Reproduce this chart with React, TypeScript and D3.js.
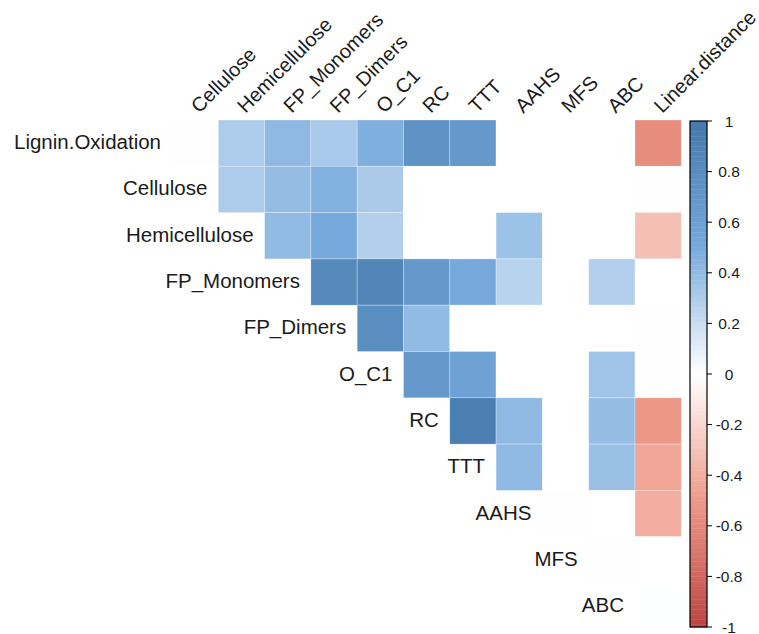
import React from "react";
import * as d3 from "d3";

const variables = [
  "Lignin.Oxidation", "Cellulose", "Hemicellulose", "FP_Monomers", "FP_Dimers",
  "O_C1", "RC", "TTT", "AAHS", "MFS", "ABC", "Linear.distance",
];
const rowLabels = variables.slice(0, 11);
const colLabels = variables.slice(1);

// upper-triangle correlations, each row lists columns to the right of the diagonal
const rowLignin = [-0.004, 0.3, 0.41, 0.32, 0.47, 0.74, 0.68, 0.0, 0.0, 0.0, -0.57];
const rowCellulose = [0.3, 0.39, 0.46, 0.31, 0.0, 0.0, 0.0, 0.0, 0.0, 0.004];
const rowHemicellulose = [0.4, 0.52, 0.28, 0.0, 0.0, 0.36, 0.0, 0.0, -0.31];
const rowFPMonomers = [0.82, 0.86, 0.68, 0.52, 0.26, 0.0, 0.28, 0.0];
const rowFPDimers = [0.78, 0.4, 0.0, 0.0, 0.0, 0.0, -0.003];
const rowOC1 = [0.68, 0.59, 0.0, 0.0, 0.35, -0.003];
const rowRC = [0.93, 0.41, 0.0, 0.39, -0.52];
const rowTTT = [0.41, 0.0, 0.37, -0.44];
const rowAAHS = [0.003, 0.0, -0.4];
const rowMFS = [0.004, 0.0];
const rowABC = [0.002];

const upperRows = [
  rowLignin, rowCellulose, rowHemicellulose, rowFPMonomers, rowFPDimers,
  rowOC1, rowRC, rowTTT, rowAAHS, rowMFS, rowABC,
];

const legendTicks = [1, 0.8, 0.6, 0.4, 0.2, 0, -0.2, -0.4, -0.6, -0.8, -1];

const W = 759;
const H = 634;
const FONT = "'Liberation Sans', Arial, Helvetica, sans-serif";

export default function App() {
  const cell = 46.3;
  const gx0 = 172;
  const gy0 = 120;
  const x = d3.scaleBand<string>().domain(colLabels).range([gx0, gx0 + cell * colLabels.length]);
  const y = d3.scaleBand<string>().domain(rowLabels).range([gy0, gy0 + cell * rowLabels.length]);
  const color = d3
    .scaleLinear<string>()
    .domain([-1, -0.5, 0, 0.5, 1])
    .range(["#BB4444", "#EE9988", "#FFFFFF", "#77AADD", "#4477AA"])
    .interpolate(d3.interpolateRgb);

  const cells: { r: string; c: string; v: number }[] = [];
  upperRows.forEach((vals, i) => {
    vals.forEach((v, k) => {
      cells.push({ r: rowLabels[i], c: colLabels[i + k], v });
    });
  });

  const barX = 690;
  const barW = 17;
  const ly = d3.scaleLinear().domain([-1, 1]).range([627, 121]);
  const steps = d3.range(-1, 1, 0.01);

  return (
    <svg width={W} height={H} style={{ position: "absolute", left: 0, top: 0, background: "#fff" }}>
      <rect x={0} y={0} width={W} height={H} fill="#fff" />
      {cells.map((d) => (
        <rect
          key={d.r + d.c}
          x={x(d.c)}
          y={y(d.r)}
          width={x.bandwidth()}
          height={y.bandwidth()}
          fill={color(d.v)}
          stroke="#ffffff"
          strokeOpacity={0.35}
          strokeWidth={0.8}
        />
      ))}
      {rowLabels.map((r, i) => (
        <text
          key={r}
          x={(x(colLabels[i]) as number) - 11}
          y={(y(r) as number) + y.bandwidth() / 2 - 1.5}
          textAnchor="end"
          dominantBaseline="central"
          fontFamily={FONT}
          fontSize={20.5}
          fill="#1a1a1a"
        >
          {r}
        </text>
      ))}
      {colLabels.map((c) => {
        const cx = (x(c) as number) + x.bandwidth() / 2 + 4;
        const cy = gy0 - 6;
        return (
          <text
            key={c}
            transform={`translate(${cx},${cy}) rotate(-45)`}
            textAnchor="start"
            fontFamily={FONT}
            fontSize={20}
            fill="#1a1a1a"
          >
            {c}
          </text>
        );
      })}
      {steps.map((s) => (
        <rect
          key={s.toFixed(2)}
          x={barX}
          y={ly(s + 0.01)}
          width={barW}
          height={ly(s) - ly(s + 0.01) + 0.4}
          fill={color(s + 0.005)}
        />
      ))}
      <rect x={barX} y={ly(1)} width={barW} height={ly(-1) - ly(1)} fill="none" stroke="#000" strokeWidth={1.2} />
      {legendTicks.map((t) => (
        <g key={t}>
          <line x1={barX + barW} x2={barX + barW + 5} y1={ly(t)} y2={ly(t)} stroke="#000" strokeWidth={1} />
          <text
            x={729}
            y={ly(t)}
            textAnchor="middle"
            dominantBaseline="central"
            fontFamily={FONT}
            fontSize={15.5}
            fill="#1a1a1a"
          >
            {t}
          </text>
        </g>
      ))}
    </svg>
  );
}
